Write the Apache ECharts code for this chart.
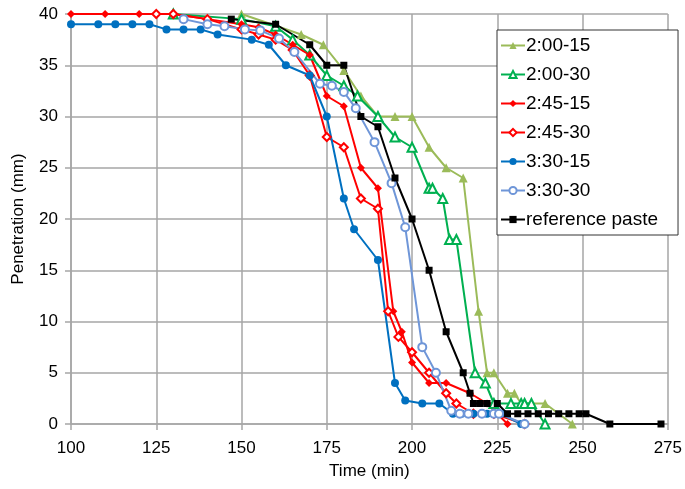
<!DOCTYPE html>
<html>
<head>
<meta charset="utf-8">
<script src="https://cdn.jsdelivr.net/npm/echarts@6/dist/echarts.min.js"></script>
<style>
  html, body { margin: 0; padding: 0; background: #fff; }
  #chart { width: 685px; height: 489px; }
</style>
</head>
<body>
<div id="chart"></div>
<script>
// Penetration readings (mm) against elapsed time (min) for each paste mix.
const t200_15 = [150, 167.5, 174, 180, 185, 190, 195, 200, 205, 210, 215, 219.5, 222, 224, 228, 230, 232, 235, 239, 247];
const p200_15 = [40, 38, 37, 34.5, 32, 30, 30, 30, 27, 25, 24, 11, 5, 5, 3, 3, 2, 2, 2, 0];

const t200_30 = [130, 150, 160, 165, 170, 175, 180, 184, 190, 195, 200, 205, 206, 209, 211, 213, 218.5, 221.5, 224, 229, 232, 233, 235, 239];
const p200_30 = [40, 39.5, 38.8, 37.5, 36, 34, 33, 32, 30, 28, 27, 23, 23, 22, 18, 18, 5, 4, 2, 2, 2, 2, 2, 0];

const t245_15 = [100, 110, 120, 130, 140, 150, 155, 160, 165, 170, 175, 180, 185, 190, 194.5, 197, 200, 205, 210, 217, 222, 228];
const p245_15 = [40, 40, 40, 40, 39.5, 39, 38.7, 38, 37, 36, 32, 31, 25, 23, 11, 9, 6, 4, 4, 3, 2, 0];

const t245_30 = [125, 130, 140, 150, 155, 160, 165, 170, 175, 180, 185, 190, 193, 196, 200, 205, 210, 213, 218, 224, 233];
const p245_30 = [40, 40, 39.5, 38.5, 38, 37.5, 36.5, 34, 28, 27, 22, 21, 11, 8.5, 7, 5, 3, 2, 1, 1, 0];

const t330_15 = [100, 108, 113, 118, 123, 128, 133, 138, 143, 153, 158, 163, 170, 175, 180, 183, 190, 195, 198, 203, 208, 212, 214.5, 218, 222, 226, 232];
const p330_15 = [39, 39, 39, 39, 39, 38.5, 38.5, 38.5, 38, 37.5, 37, 35, 34, 30, 22, 19, 16, 4, 2.3, 2, 2, 1, 1, 1, 1, 1, 0];

const t330_30 = [133, 140, 145, 151, 155.5, 161, 165.5, 173, 176.5, 180, 183.5, 189, 194, 198, 203, 207, 211.5, 214, 216.5, 220.5, 224, 225.5, 233];
const p330_30 = [39.5, 39, 38.8, 38.5, 38.4, 37.6, 36.3, 33.2, 33, 32.4, 30.8, 27.5, 23.5, 19.2, 7.5, 5, 1.3, 1, 1, 1, 1, 1, 0];

const tRef = [147, 160, 170, 175, 180, 185, 190, 195, 200, 205, 210, 215, 217, 218, 220, 222, 225, 228, 231, 234, 237, 240, 243, 246, 249, 251, 258, 273];
const pRef = [39.5, 39, 37, 35, 35, 30, 29, 24, 20, 15, 9, 5, 3, 2, 2, 2, 2, 1, 1, 1, 1, 1, 1, 1, 1, 1, 0, 0];

const xTicks = { min: 100, max: 275, step: 25 };
const yTicks = { min: 0, max: 40, step: 5 };

function pairs(ts, ps) { return ts.map((t, i) => [t, ps[i]]); }

const mixes = [
  { name: '2:00-15', t: t200_15, p: p200_15, color: '#9BBB59', symbol: 'triangle', size: 9 },
  { name: '2:00-30', t: t200_30, p: p200_30, color: '#00B050', symbol: 'emptyTriangle', size: 9 },
  { name: '2:45-15', t: t245_15, p: p245_15, color: '#FF0000', symbol: 'diamond', size: 8 },
  { name: '2:45-30', t: t245_30, p: p245_30, color: '#FF0000', symbol: 'emptyDiamond', size: 8 },
  { name: '3:30-15', t: t330_15, p: p330_15, color: '#0070C0', symbol: 'circle', size: 8 },
  { name: '3:30-30', t: t330_30, p: p330_30, color: '#6F96D8', symbol: 'emptyCircle', size: 8 },
  { name: 'reference paste', t: tRef, p: pRef, color: '#000000', symbol: 'rect', size: 7 }
];

const font = 'Liberation Sans, Arial, sans-serif';
const gridGray = '#A6A6A6';

const chart = echarts.init(document.getElementById('chart'), null, { renderer: 'canvas' });
chart.setOption({
  animation: false,
  backgroundColor: '#fff',
  grid: { left: 71, right: 17, top: 14, bottom: 65 },
  xAxis: {
    type: 'value', min: xTicks.min, max: xTicks.max, interval: xTicks.step,
    name: 'Time (min)', nameLocation: 'middle', nameGap: 39,
    nameTextStyle: { fontFamily: font, fontSize: 17, color: '#000' },
    axisLine: { show: true, lineStyle: { color: gridGray, width: 1.5 } },
    axisTick: { show: true, length: 6, lineStyle: { color: gridGray, width: 1.5 } },
    axisLabel: { fontFamily: font, fontSize: 17, color: '#000', margin: 16 },
    splitLine: { show: true, lineStyle: { color: gridGray, width: 1.5 } }
  },
  yAxis: {
    type: 'value', min: yTicks.min, max: yTicks.max, interval: yTicks.step,
    name: 'Penetration (mm)', nameLocation: 'middle', nameGap: 44, nameRotate: 90,
    nameTextStyle: { fontFamily: font, fontSize: 17, color: '#000' },
    axisLine: { show: true, lineStyle: { color: gridGray, width: 1.5 } },
    axisTick: { show: true, length: 6, lineStyle: { color: gridGray, width: 1.5 } },
    axisLabel: { fontFamily: font, fontSize: 17, color: '#000', margin: 13 },
    splitLine: { show: true, lineStyle: { color: gridGray, width: 1.5 } }
  },
  legend: {
    orient: 'vertical', left: 497, top: 30,
    padding: [6, 20, 6, 3], itemGap: 10,
    itemWidth: 24, itemHeight: 9,
    backgroundColor: '#fff', borderColor: '#333', borderWidth: 1,
    textStyle: { fontFamily: font, fontSize: 19, color: '#000', padding: [0, 0, 0, -4] },
    data: mixes.map(m => m.name)
  },
  series: mixes.map(m => ({
    name: m.name, type: 'line',
    data: pairs(m.t, m.p),
    symbol: m.symbol, symbolSize: m.size,
    lineStyle: { color: m.color, width: 2 },
    itemStyle: { color: m.color, borderColor: m.color, borderWidth: m.symbol.startsWith('empty') ? 1.5 : 0 },
    emphasis: { disabled: true }
  }))
});
</script>
</body>
</html>
